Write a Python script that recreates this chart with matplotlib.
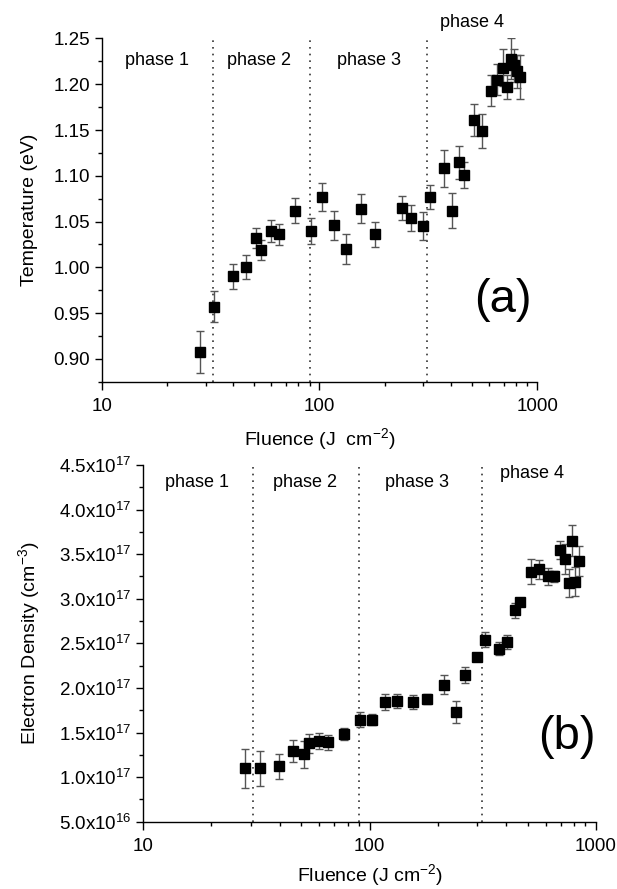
"""
Plasma temperature and electron density vs laser fluence
"""

import numpy as np
import matplotlib
matplotlib.use('Agg')
import matplotlib.pyplot as plt
from matplotlib.ticker import FixedLocator, FuncFormatter, NullFormatter, LogLocator

plt.rcParams['font.family'] = ['Liberation Sans', 'DejaVu Sans']
plt.rcParams['mathtext.fontset'] = 'custom'
plt.rcParams['mathtext.rm'] = 'Liberation Sans'
plt.rcParams['mathtext.it'] = 'Liberation Sans'

# (a) temperature
fluence_a = [28.3, 32.9, 40.0, 45.8, 51.3, 53.7, 60.1, 65.4, 77.2, 91.1,
             102.3, 116.6, 132.3, 155.6, 179.2, 240, 264, 299.7, 321.6,
             372.9, 405.9, 438.5, 460.8, 513.6, 559.2, 611, 655, 698, 726,
             757, 784, 804, 836]
temp = [0.907, 0.957, 0.990, 1.000, 1.032, 1.019, 1.040, 1.036, 1.062, 1.040,
        1.077, 1.046, 1.020, 1.064, 1.036, 1.065, 1.054, 1.045, 1.077,
        1.108, 1.062, 1.115, 1.101, 1.161, 1.149, 1.193, 1.205, 1.218, 1.197,
        1.228, 1.221, 1.214, 1.208]
temp_err = [0.023, 0.017, 0.014, 0.013, 0.011, 0.011, 0.012, 0.0115, 0.014, 0.014,
            0.015, 0.016, 0.016, 0.016, 0.014, 0.013, 0.014, 0.0155, 0.013,
            0.020, 0.019, 0.018, 0.014, 0.0175, 0.019, 0.017, 0.017, 0.020, 0.013,
            0.022, 0.018, 0.018, 0.024]
phase_lines_a = [32.3, 90.5, 311]

# (b) electron density, units of 1e17 cm^-3
fluence_b = [28.2, 32.8, 39.9, 45.8, 51.2, 53.8, 60.0, 65.3, 77.4, 91.0,
             102.9, 116.7, 132.7, 155.2, 179.6, 214.1, 240.4, 265.1, 299.7,
             324.1, 373.7, 405.4, 439.9, 461.4, 516.1, 559.8, 617.3, 654.2,
             695.4, 729.5, 760, 785.7, 812.7, 841]
density = [1.098, 1.098, 1.120, 1.295, 1.254, 1.378, 1.407, 1.389, 1.485, 1.646,
           1.646, 1.843, 1.854, 1.843, 1.881, 2.038, 1.731, 2.145, 2.347,
           2.542, 2.441, 2.519, 2.870, 2.963, 3.306, 3.332, 3.250, 3.250,
           3.549, 3.448, 3.180, 3.650, 3.191, 3.421]
density_err = [0.215, 0.196, 0.142, 0.121, 0.151, 0.108, 0.093, 0.084, 0.071, 0.082,
               0.062, 0.09, 0.08, 0.078, 0.056, 0.104, 0.125, 0.086, 0.034,
               0.08, 0.075, 0.08, 0.088, 0.047, 0.14, 0.106, 0.099, 0.062,
               0.10, 0.168, 0.159, 0.173, 0.162, 0.168]
phase_lines_b = [30.5, 90, 315]

phase_names = ['phase 1', 'phase 2', 'phase 3', 'phase 4']


def style_axis(ax):
    ax.spines['top'].set_visible(False)
    ax.spines['right'].set_visible(False)
    ax.set_xscale('log')
    ax.set_xlim(10, 1000)
    ax.xaxis.set_major_locator(LogLocator(base=10))
    ax.xaxis.set_minor_locator(LogLocator(base=10, subs=np.arange(2, 10)))
    ax.xaxis.set_minor_formatter(NullFormatter())
    ax.xaxis.set_major_formatter(FuncFormatter(lambda v, p: '%d' % v))
    ax.tick_params(which='major', direction='out', length=5, width=1, labelsize=13.5)
    ax.tick_params(which='minor', direction='out', length=3, width=1)
    ax.tick_params(axis='x', which='major', length=6, pad=6)
    for s in ['left', 'bottom']:
        ax.spines[s].set_linewidth(1.0)


fig = plt.figure(figsize=(6.17, 8.89), dpi=100)

# ---- (a)
ax1 = fig.add_axes([0.1648, 0.5706, 0.706, 0.3861])
style_axis(ax1)
ax1.set_ylim(0.875, 1.25)
ax1.yaxis.set_major_locator(FixedLocator(np.arange(0.90, 1.26, 0.05)))
ax1.yaxis.set_minor_locator(FixedLocator(np.arange(0.875, 1.26, 0.025)))
ax1.yaxis.set_major_formatter(FuncFormatter(lambda v, p: '%.2f' % v))
for f in phase_lines_a:
    ax1.axvline(f, color='#333333', ls=(0, (1, 3)), lw=1.2)
ax1.errorbar(fluence_a, temp, yerr=temp_err, fmt='s', color='black',
             ms=7, ecolor='#555555', elinewidth=1, capsize=3, capthick=1)
ax1.set_ylabel('Temperature (eV)', fontsize=14, labelpad=11)
ax1.set_xlabel('Fluence (J  cm$^{-2}$)', fontsize=14, labelpad=8)
for x, y, name in zip([17.9, 52.7, 168.6, 501], [1.2265, 1.2265, 1.2265, 1.268], phase_names):
    ax1.text(x, y, name, fontsize=13, ha='center', va='center', clip_on=False)
ax1.text(696, 0.964, '(a)', fontsize=34, ha='center', va='center')

# ---- (b)
ax2 = fig.add_axes([0.2323, 0.0757, 0.7332, 0.4012])
style_axis(ax2)
ax2.set_ylim(0.5, 4.5)
ax2.yaxis.set_major_locator(FixedLocator(np.arange(0.5, 4.51, 0.5)))
ax2.yaxis.set_minor_locator(FixedLocator(np.arange(0.5, 4.51, 0.25)))


def dens_fmt(v, p):
    if v < 0.99:
        return '%.1fx10$^{\\mathregular{16}}$' % (v * 10)
    return '%.1fx10$^{\\mathregular{17}}$' % v


ax2.yaxis.set_major_formatter(FuncFormatter(dens_fmt))
for f in phase_lines_b:
    ax2.axvline(f, color='#333333', ls=(0, (1, 3)), lw=1.2)
ax2.errorbar(fluence_b, density, yerr=density_err, fmt='s', color='black',
             ms=7, ecolor='#555555', elinewidth=1, capsize=3, capthick=1)
ax2.set_ylabel('Electron Density (cm$^{-3}$)', fontsize=14, labelpad=12)
ax2.set_xlabel('Fluence (J cm$^{-2}$)', fontsize=14, labelpad=5)
for x, y, name in zip([17.3, 51.8, 162, 522], [4.30, 4.30, 4.30, 4.40], phase_names):
    ax2.text(x, y, name, fontsize=13, ha='center', va='center')
ax2.text(747, 1.45, '(b)', fontsize=34, ha='center', va='center')

plt.savefig('out.png', dpi=100)
